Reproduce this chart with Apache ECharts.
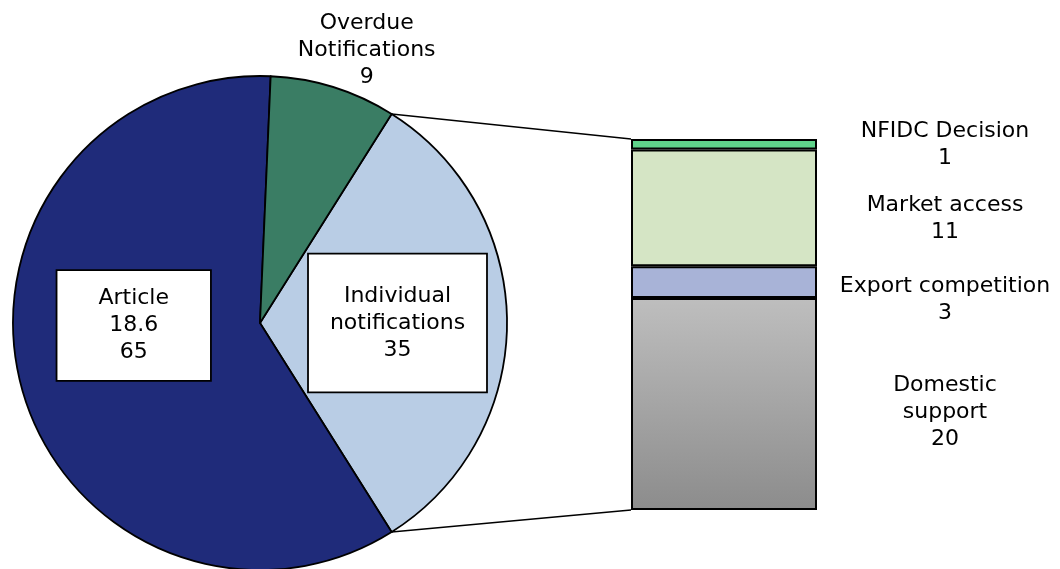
<!DOCTYPE html>
<html><head><meta charset="utf-8">
<script src="https://cdn.jsdelivr.net/npm/echarts@6/dist/echarts.min.js"></script>
<style>html,body{margin:0;padding:0;background:#fff}#c{width:1060px;height:569px}</style>
</head><body><div id="c"></div>
<script>
// ---- data ----
const pieNames = ['Individual\nnotifications', 'Article\n18.6', 'Overdue\nNotifications'];
const pieValues = [35, 65, 9];
const barCategory = ['Individual notifications'];
const barNames = ['Domestic\nsupport', 'Export competition', 'Market access', 'NFIDC Decision'];
const barValues = [20, 3, 11, 1];

// ---- styles / layout ----
const FONT = 'DejaVu Sans';
const pieCenter = [260, 323];
const pieRadius = 247;
const gridBox = { left: 631, top: 139, width: 186, height: 371 };
const pieColors = ['#B9CDE5', '#1F2B7A', '#3A7D64'];
const pieLabelStyles = [
  { offset: [11, 0], box: true, padding: [28, 21] },
  { offset: [-4, -30], box: true, padding: [14, 41] },
  { offset: [69, -152], box: false }
];
const barColors = [
  new echarts.graphic.LinearGradient(0, 0, 0, 1, [{ offset: 0, color: '#BEBEBE' }, { offset: 1, color: '#8C8C8C' }]),
  '#A8B3D7', '#D5E5C5', '#5FD38A'
];
const barLabelOffsets = [8, 18, 11, 0];

const pieTotal = pieValues.reduce((a, b) => a + b, 0);
const barTotal = barValues.reduce((a, b) => a + b, 0);
const startAngle = pieValues[0] / pieTotal * 180;

const chart = echarts.init(document.getElementById('c'), null, { renderer: 'canvas' });

const pieData = pieNames.map((n, i) => {
  const s = pieLabelStyles[i];
  const lab = {
    show: true, position: 'inside', offset: s.offset,
    formatter: '{b}\n{c}', color: '#000', fontFamily: FONT, fontSize: 22, lineHeight: 27, align: 'center'
  };
  if (s.box) {
    Object.assign(lab, { backgroundColor: '#fff', borderColor: '#000', borderWidth: 1.8, padding: s.padding });
  }
  return { name: n, value: pieValues[i], itemStyle: { color: pieColors[i] }, label: lab };
});

const barSeries = barNames.map((n, i) => ({
  type: 'bar', name: n, stack: 'total', barWidth: '100%',
  data: [barValues[i]],
  itemStyle: { color: barColors[i], borderColor: '#000', borderWidth: 2 },
  label: {
    show: true, position: 'right', distance: 128, align: 'center', verticalAlign: 'middle',
    offset: [0, barLabelOffsets[i]],
    formatter: '{a}\n{c}', color: '#000', fontFamily: FONT, fontSize: 22, lineHeight: 27
  },
  silent: true, animation: false
}));

chart.setOption({
  animation: false,
  backgroundColor: '#fff',
  grid: gridBox,
  xAxis: { type: 'category', data: barCategory, show: false },
  yAxis: { type: 'value', min: 0, max: barTotal, show: false },
  series: [
    {
      type: 'pie', center: pieCenter, radius: pieRadius, startAngle: startAngle, clockwise: true,
      data: pieData, labelLine: { show: false },
      itemStyle: { borderColor: '#000', borderWidth: 1.8 },
      emphasis: { disabled: true }, silent: true, animation: false
    },
    ...barSeries
  ]
});

// connector lines from the pie slice edge to the bar corners
const a = startAngle * Math.PI / 180;
const pTop = [pieCenter[0] + pieRadius * Math.cos(a), pieCenter[1] - pieRadius * Math.sin(a)];
const pBot = [pieCenter[0] + pieRadius * Math.cos(a), pieCenter[1] + pieRadius * Math.sin(a)];
const barLeft = gridBox.left;
const yTop = chart.convertToPixel({ yAxisIndex: 0 }, barTotal);
const yBot = chart.convertToPixel({ yAxisIndex: 0 }, 0);
chart.setOption({
  graphic: [
    { type: 'line', shape: { x1: pTop[0], y1: pTop[1], x2: barLeft, y2: yTop }, style: { stroke: '#000', lineWidth: 1.5 }, z: 1 },
    { type: 'line', shape: { x1: pBot[0], y1: pBot[1], x2: barLeft, y2: yBot }, style: { stroke: '#000', lineWidth: 1.5 }, z: 1 }
  ]
});
</script>
</body></html>
